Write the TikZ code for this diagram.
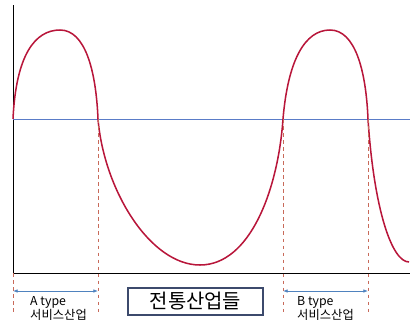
\documentclass[tikz,border=0pt]{standalone}
\usepackage{fontspec}
\setmainfont{Noto Sans CJK KR}
\usetikzlibrary{arrows.meta,positioning,calc}
\definecolor{wavered}{HTML}{B8163A}
\definecolor{levelblue}{HTML}{5A7CC8}
\definecolor{spanblue}{HTML}{4F82BE}
\definecolor{guidered}{HTML}{C86A5A}
\definecolor{boxedge}{HTML}{3C4A6C}

\begin{document}
\begin{tikzpicture}[x=0.03cm,y=-0.03cm,
  every node/.style={font=\fontsize{10.5}{12}\selectfont},
  guide/.style={guidered,dashed,thin},
  span/.style={{Latex[length=1.4mm]}-{Latex[length=1.4mm]},spanblue,semithick},
  lbl/.style={align=left,inner sep=0pt}]
\useasboundingbox (0,0) rectangle (410,327);
% axes
\coordinate (o) at (13,273);
\draw[thick] (13,5) -- (o) -- (410,273);
% level line
\draw[levelblue,semithick] (13,119) -- (410,119);
% crossing points
\coordinate (c0) at (13,119);
\coordinate (c1) at (98,119);
\coordinate (c2) at (283,119);
\coordinate (c3) at (368,119);
% wave
\draw[wavered,line width=1.3pt] (c0)
  .. controls (16,55) and (35,30) .. (60,30)
  .. controls (85,30) and (96,70) .. (c1)
  .. controls (104,190) and (150,265) .. (200,265)
  .. controls (250,265) and (278,190) .. (c2)
  .. controls (288,60) and (305,30) .. (330,30)
  .. controls (355,30) and (366,70) .. (c3)
  .. controls (374,210) and (392,262) .. (409,262);
% guides
\foreach \p/\n in {13/0,98/1,283/2,368/3}
  \coordinate (g\n) at (\p,313);
\draw[guide] (o) -- (g0);
\draw[guide] (c1) -- (g1);
\draw[guide] (c2) -- (g2);
\draw[guide] (c3) -- (g3);
% spans
\coordinate (a1) at (13,291);
\coordinate (a2) at (98,291);
\coordinate (b1) at (283,291);
\coordinate (b2) at (368,291);
\draw[span] (a1) -- (a2);
\draw[span] (b1) -- (b2);
% labels
\node[lbl,anchor=north west] (atype) at (30,296) {A type\\서비스산업};
\node[lbl,anchor=north west] (btype) at (297,296) {B type\\서비스산업};
\node[draw=boxedge,line width=1pt,minimum width=135*0.03cm,minimum height=27*0.03cm,
  font=\fontsize{17}{19}\selectfont] (trad) at (195.5,301.5) {전통산업들};
\end{tikzpicture}
\end{document}
